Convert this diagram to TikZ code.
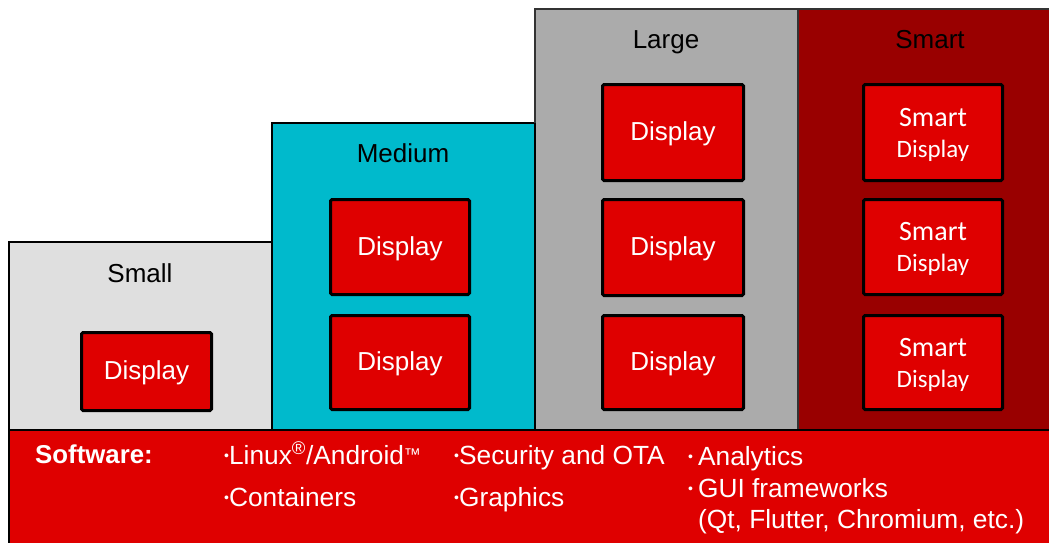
\documentclass[tikz,border=0pt]{standalone}
\usepackage{fontspec}
\setmainfont{Liberation Sans}
\newfontfamily\calibri{Carlito}
\definecolor{tiersmall}{HTML}{DFDFDF}
\definecolor{tiermedium}{HTML}{00BACC}
\definecolor{tierlarge}{HTML}{ABABAB}
\definecolor{tiersmart}{HTML}{990000}
\definecolor{brandred}{HTML}{DF0000}
\newcommand{\fs}[1]{\fontsize{#1}{#1}\selectfont}
\newcommand{\blt}{\raisebox{3.2pt}{\fs{14}\textbullet}}
\newcommand{\tmark}{\raisebox{4pt}{\fs{17}™}}
\tikzset{
  tier/.style={draw=black, line width=2.6pt},
  tierlabel/.style={font=\fs{26}, text=black, inner sep=0pt, anchor=base},
  disp/.style={draw=black, line width=3pt, fill=brandred, rounded corners=1.5pt,
    text=white, font=\fs{26}, align=center, inner sep=0pt, text depth=2pt},
  smartdisp/.style={disp, font=\calibri\fs{25}, text depth=0pt},
  swtext/.style={font=\fs{26.3}, text=white, anchor=base west, inner sep=0pt},
}
\begin{document}
\begin{tikzpicture}[x=1pt, y=-1pt]
\useasboundingbox (0,0) rectangle (1049,542);
\clip (0,0) rectangle (1049,542);
\fill[white] (0,0) rectangle (1049,542);

% Product tiers
\draw[tier, fill=tiersmall]  (9,242) rectangle (272,430);
\draw[tier, fill=tiermedium] (272,123) rectangle (535,430);
\draw[tier, fill=tierlarge, draw=black!80, line width=2pt] (535,9) rectangle (798,430);
\draw[tier, fill=tiersmart, draw=black!80, line width=2pt] (798,9) rectangle (1060,430);
\draw[black, line width=2.6pt] (272,123) -- (272,430) (535,123) -- (535,430);

\node[tierlabel] (lblsmall)  at (140,282) {Small};
\node[tierlabel] (lblmedium) at (403,162) {Medium};
\node[tierlabel] (lbllarge)  at (666,48)  {Large};
\node[tierlabel] (lblsmart)  at (930,48)  {Smart};

% Small
\node[disp, minimum width=130, minimum height=78] (s1) at (146.5,371.5) {Display};
% Medium
\node[disp, minimum width=139, minimum height=95] (m1) at (400,247) {Display};
\node[disp, minimum width=139, minimum height=94] (m2) at (400,362.5) {Display};
% Large
\node[disp, minimum width=141, minimum height=96] (l1) at (673,132.5) {Display};
\node[disp, minimum width=141, minimum height=96] (l2) at (673,247.5) {Display};
\node[disp, minimum width=141, minimum height=94] (l3) at (673,362.5) {Display};
% Smart
\node[smartdisp, minimum width=139, minimum height=96] (x1) at (933,132.5) {{\fs{28}Smart}\\[6pt]Display};
\node[smartdisp, minimum width=139, minimum height=95] (x2) at (933,247) {{\fs{28}Smart}\\[6pt]Display};
\node[smartdisp, minimum width=139, minimum height=94] (x3) at (933,362.5) {{\fs{28}Smart}\\[6pt]Display};

% Software bar
\draw[tier, fill=brandred] (9,430) rectangle (1060,560);
\node[swtext, font=\bfseries\fs{25.8}] (sw) at (35,463) {Software:};
\node[swtext] (linux)  at (224,464) {\blt Linux\textsuperscript{®}/Android\tmark};
\node[swtext] (cont)   at (224,506) {\blt Containers};
\node[swtext] (sec)    at (454,464) {\blt Security and OTA};
\node[swtext] (gfx)    at (454,506) {\blt Graphics};
\node[swtext] (ana)    at (688,465) {\blt\hspace{5pt}Analytics};
\node[swtext] (gui)    at (688,497) {\blt\hspace{5pt}GUI frameworks};
\node[swtext] (gui2)   at (698,528) {(Qt, Flutter, Chromium, etc.)};
\end{tikzpicture}
\end{document}
